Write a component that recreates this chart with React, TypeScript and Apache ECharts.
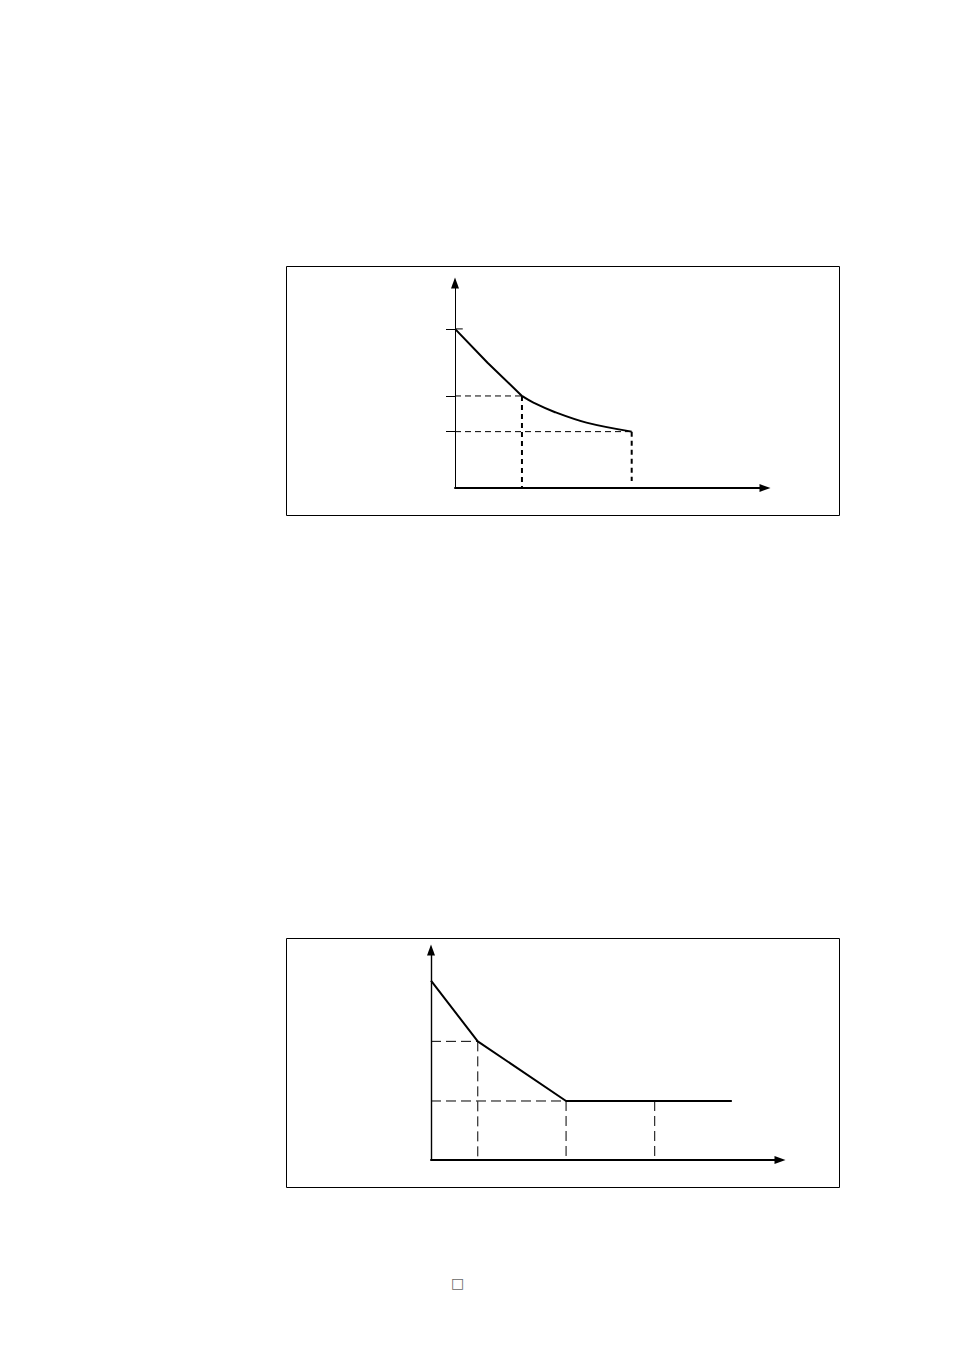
import { useEffect, useRef } from 'react';
import * as echarts from 'echarts';

// chart 1 (top): axes run 0..100 on both sides
const c1Head = [[0, 77.6], [10.5, 61.1], [21.6, 44.9]];
const c1Tail = [[21.6, 44.9], [25.3, 41.6], [32.1, 37.1], [42.4, 31.9], [57.0, 27.5]];
const c1Ticks = [27.5, 44.9, 77.6];
const c1TopStub = [[0, 77.6], [2.5, 77.6]];
const c1HGuides = [
  [[0, 44.9], [21.6, 44.9]],
  [[0, 27.5], [57.0, 27.5]],
];
const c1VGuides = [
  [[21.6, 44.9], [21.6, 0]],
  [[57.0, 27.5], [57.0, 3.4]],
];

// chart 2 (bottom)
const c2Line = [[0, 85.4], [13.4, 56.5], [38.7, 28.1], [86.2, 28.1]];
const c2Guides = [
  [[0, 56.5], [13.4, 56.5]],
  [[0, 28.1], [38.7, 28.1]],
  [[13.4, 56.5], [13.4, 0]],
  [[38.7, 28.1], [38.7, 0]],
  [[64.1, 28.1], [64.1, 0]],
];

const axisPair = (gridIndex: number, xWidth: number, yWidth: number, ticks: number[]) => ({
  x: {
    type: 'value' as const,
    gridIndex,
    min: 0,
    max: 100,
    axisLine: {
      show: true,
      symbol: ['none', 'triangle'],
      symbolSize: [8, 11],
      lineStyle: { color: '#000', width: xWidth },
    },
    axisTick: { show: false },
    axisLabel: { show: false },
    splitLine: { show: false },
  },
  y: {
    type: 'value' as const,
    gridIndex,
    min: 0,
    max: 100,
    axisLine: {
      show: true,
      symbol: ['none', 'triangle'],
      symbolSize: [8, 11],
      lineStyle: { color: '#000', width: yWidth },
    },
    axisTick: {
      show: ticks.length > 0,
      customValues: ticks,
      length: 9,
      lineStyle: { color: '#000', width: 1 },
    },
    axisLabel: { show: false },
    splitLine: { show: false },
  },
});

const seg = (
  data: number[][],
  idx: number,
  width: number,
  type: any,
  smooth: number | boolean = false,
  z = 2,
) => ({
  type: 'line' as const,
  xAxisIndex: idx,
  yAxisIndex: idx,
  data,
  smooth,
  symbol: 'none',
  silent: true,
  z,
  lineStyle: { color: '#000', width, type },
});

const App = () => {
  const ref = useRef<HTMLDivElement>(null);

  useEffect(() => {
    if (!ref.current) return;
    const chart = echarts.init(ref.current, undefined, { renderer: 'svg' });
    const a1 = axisPair(0, 2, 1, c1Ticks);
    const a2 = axisPair(1, 2, 1.4, []);

    const series: any[] = [
      ...c1HGuides.map((d) => seg(d, 0, 1, [6, 4], false, 1)),
      ...c1VGuides.map((d) => seg(d, 0, 2, [5, 4], false, 1)),
      seg(c1TopStub, 0, 1, 'solid'),
      seg(c1Head, 0, 2, 'solid'),
      seg(c1Tail, 0, 2, 'solid', 0.35),
      ...c2Guides.map((d) => seg(d, 1, 1, [10, 5], false, 1)),
      seg(c2Line, 1, 2, 'solid'),
    ];

    chart.setOption({
      animation: false,
      backgroundColor: '#fff',
      grid: [
        { left: 455, top: 283, width: 310, height: 205, outerBoundsMode: 'none' },
        { left: 431, top: 950, width: 349, height: 210, outerBoundsMode: 'none' },
      ],
      xAxis: [a1.x, a2.x],
      yAxis: [a1.y, a2.y],
      series,
      graphic: [
        {
          type: 'rect',
          shape: { x: 286.5, y: 266.5, width: 553, height: 249 },
          style: { fill: 'none', stroke: '#000', lineWidth: 1 },
          silent: true,
        },
        {
          type: 'rect',
          shape: { x: 286.5, y: 938.5, width: 553, height: 249 },
          style: { fill: 'none', stroke: '#000', lineWidth: 1 },
          silent: true,
        },
        {
          type: 'text',
          x: 451,
          y: 1276,
          style: {
            text: '□',
            fill: '#666',
            fontSize: 14,
            fontFamily: 'DejaVu Sans',
          },
          silent: true,
        },
      ],
    });

    return () => chart.dispose();
  }, []);

  return (
    <div
      ref={ref}
      style={{ position: 'absolute', left: 0, top: 0, width: 954, height: 1351 }}
    />
  );
};

export default App;
